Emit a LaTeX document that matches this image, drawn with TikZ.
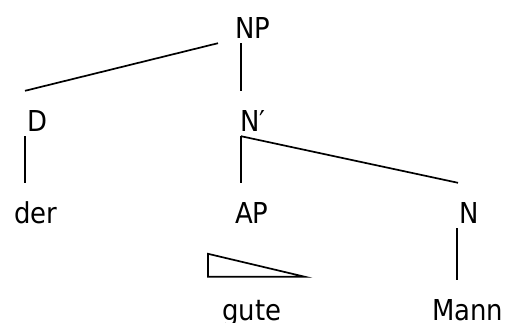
\documentclass[tikz,border=0pt]{standalone}
\usepackage{fontspec}
\setmainfont[FakeStretch=0.9]{DejaVu Sans}
\usetikzlibrary{positioning}
\usetikzlibrary{calc}

\begin{document}
\begin{tikzpicture}[x=1pt,y=1pt,
    word/.style={anchor=base west, inner sep=0pt, text height=40pt, text depth=5pt,
        font=\fontsize{28.8}{34}\selectfont},
    branch/.style={line width=1.7pt}]
    % Fix the size of the picture
    \useasboundingbox (0,0) rectangle (508,-322);

    % Place the words of the tree
    \foreach \name/\txt/\x/\y in {np/NP/235/38, d/D/27/131, nbar/N′/240/131,
        der/der/14/223, ap/AP/235/223, n/N/459/223, gute/gute/222/320, mann/Mann/432/320}
        \node[word] (\name) at (\x,-\y) {\txt};

    % Draw the branches
    \draw[branch] ([xshift=-17pt]np.south west) -- ([xshift=-2pt]d.north west);
    \draw[branch] ([xshift=6pt]np.south west) -- ([xshift=1pt]nbar.north west);
    \draw[branch] ([xshift=-2pt]d.south west) -- ([xshift=11pt]der.north west);
    \draw[branch] ([xshift=1pt]nbar.south west) -- ([xshift=6pt]ap.north west);
    \draw[branch] ([xshift=1pt]nbar.south west) -- ([xshift=-1pt]n.north west);
    \draw[branch] ([xshift=-2pt]n.south west) -- ([xshift=25pt]mann.north west);

    % The triangle over gute
    \draw[branch] ([xshift=-14pt,yshift=26pt]gute.north west)
        -- ([xshift=-14pt,yshift=3pt]gute.north west)
        -- ([xshift=83pt,yshift=3pt]gute.north west) -- cycle;
\end{tikzpicture}
\end{document}
